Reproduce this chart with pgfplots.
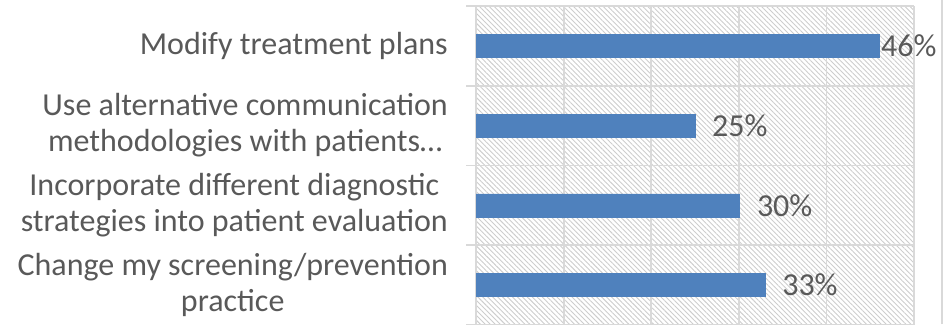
\documentclass[border=0pt]{standalone}
\usepackage{pgfplots}
\pgfplotsset{compat=1.18}
\usepackage{pgfplotstable}
\usepackage{fontspec}
\setmainfont{Carlito}
\usetikzlibrary{patterns.meta}
\definecolor{barblue}{RGB}{79,129,189}
\definecolor{txt}{RGB}{89,89,89}
\definecolor{grd}{RGB}{217,217,217}
\definecolor{hatch}{RGB}{205,205,205}

\pgfplotstableread{
y val off
0 33 17
1 30 18
2 25 17
3 46 2
}\data

\begin{document}
\begin{tikzpicture}[x=1pt,y=1pt]
\path[use as bounding box] (0,0) rectangle (944,324);
\draw[grd, line width=1.5pt] (942,0) -- (942,324);
\begin{axis}[
  at={(476pt,-1pt)}, anchor=south west, scale only axis,
  width=438pt, height=319pt,
  xmin=0, xmax=50, ymin=-0.5, ymax=3.5,
  xbar, bar width=23pt,
  /pgf/number format/assume math mode=true,
  axis line style={draw=none},
  axis background/.style={pattern={Lines[angle=-45,distance=3.5pt,line width=0.9pt]}, pattern color=hatch},
  xtick={0,10,20,30,40,50}, xticklabels={}, xmajorgrids,
  ytick={0,1,2,3},
  yticklabels={{Change my screening/prevention\\practice},
               {Incorporate different diagnostic\\strategies into patient evaluation},
               {Use alternative communication\\methodologies with patients…},
               {Modify treatment plans}},
  minor ytick={-0.5,0.5,1.5,2.5,3.5}, yminorgrids,
  grid style={grd, line width=1.8pt},
  major tick length=0pt, minor tick length=10pt, tick align=outside,
  xtick pos=bottom, ytick pos=left,
  tick style={grd, line width=1.8pt},
  yticklabel style={font=\fontsize{32}{36}\selectfont, text=txt, align=center, inner sep=0pt, xshift=-28pt},
]
\addplot[fill=barblue, draw=barblue,
  nodes near coords={\pgfmathprintnumber{\pgfplotspointmeta}\%},
  point meta=x,
  visualization depends on={\thisrow{off} \as \off},
  every node near coord/.append style={anchor=west, xshift=\off pt, font=\fontsize{32}{36}\selectfont, text=txt, inner sep=0pt}
] table[x=val, y=y] {\data};
\end{axis}
\end{tikzpicture}
\end{document}
